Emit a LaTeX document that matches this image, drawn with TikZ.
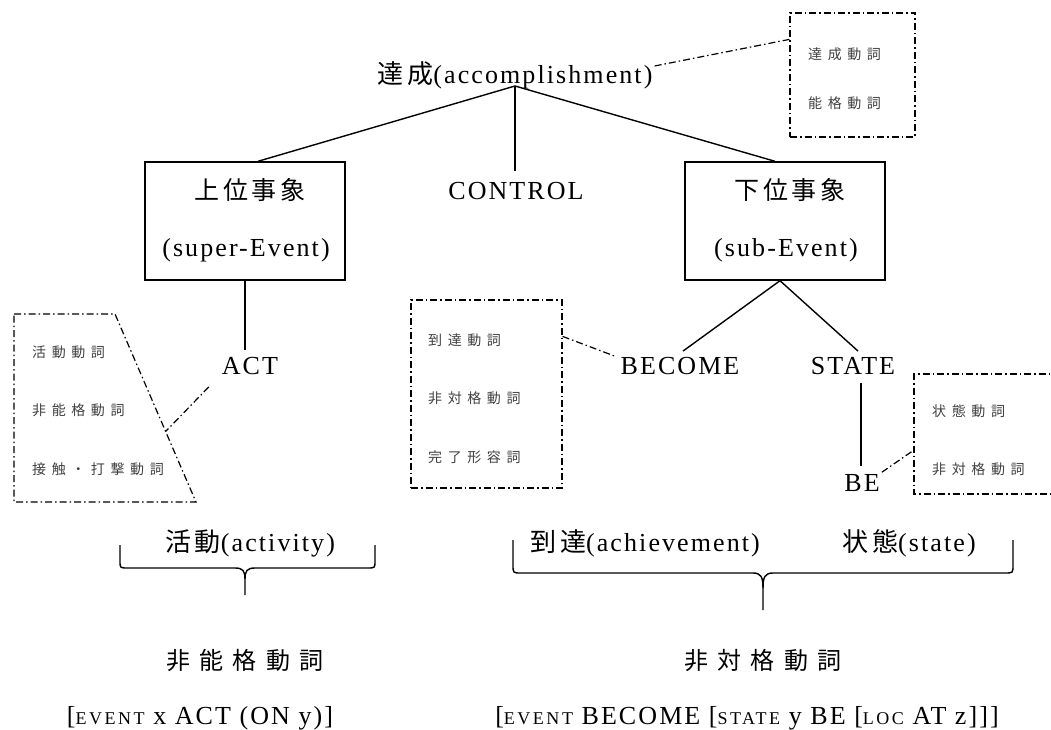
\documentclass[tikz,border=0pt]{standalone}
\usepackage{fontspec}
\setmainfont{Liberation Serif}[LetterSpace=8]
\newfontfamily\scfont{Liberation Serif}[LetterSpace=14]
\newfontfamily\cjk{Noto Sans CJK JP}[LetterSpace=15]
\newfontfamily\cjks{Noto Sans CJK JP}[LetterSpace=40]
\newfontfamily\cjkb{Noto Sans CJK JP}[LetterSpace=38]
\newcommand\smc[1]{{\scfont\fontsize{18}{18}\selectfont #1}}
\usetikzlibrary{calc}
\begin{document}
\begin{tikzpicture}[x=1pt,y=-1pt,
  lab/.style={font=\fontsize{26}{30}\selectfont, inner sep=0pt},
  cj/.style={font=\cjk\fontsize{25}{30}\selectfont, inner sep=0pt},
  small/.style={font=\cjks\fontsize{14}{16}\selectfont, anchor=west, text=black!75, inner sep=0pt},
  big/.style={font=\cjkb\fontsize{24}{27}\selectfont, inner sep=0pt},
  ddot/.style={line width=1.2pt, dash pattern=on 7pt off 3pt on 1.5pt off 3pt},
  tree/.style={line width=1.4pt},
  ebox/.style={draw, line width=1.4pt, inner sep=0pt},
  dbox/.style={draw, ddot, inner sep=0pt}]
\useasboundingbox (0,0) rectangle (1051,730);

% root
\node[lab] (root) at (515,75) {{\cjk 達成}(accomplishment)};
\coordinate (rootb) at (515,86);

% upper boxes
\node[ebox, minimum width=200pt, minimum height=118pt] (lbox) at (245,221) {};
\node[cj] (lt1) at (250,190) {上位事象};
\node[lab] (lt2) at (246,250) {(super-Event)};
\node[ebox, minimum width=200pt, minimum height=118pt] (rbox) at (785,221) {};
\node[cj] (rt1) at (790,190) {下位事象};
\node[lab] (rt2) at (786,250) {(sub-Event)};
\node[lab] (ctrl) at (516,191) {CONTROL};

\draw[tree] (rootb) -- ($(lbox.north)+(13,0)$);
\draw[tree] (rootb) -- ($(ctrl.north)+(-1,-11)$);
\draw[tree] (rootb) -- ($(rbox.north)+(-10,0)$);

% lower tree
\node[lab] (act) at (250,366) {ACT};
\node[lab] (become) at (680,366) {BECOME};
\node[lab] (state) at (853,366) {STATE};
\node[lab] (be) at (862,483) {BE};
\draw[tree] (lbox.south) -- ($(act.north)+(-5,-7)$);
\draw[tree] ($(rbox.south)+(-5,0)$) -- ($(become.north)+(3,-6)$);
\draw[tree] ($(rbox.south)+(-5,0)$) -- ($(state.north)+(5,-6)$);
\draw[tree] ($(state.south)+(8,8)$) -- ($(be.north)+(-1,-8)$);

% left trapezoid
\coordinate (tA) at (14,314);
\coordinate (tB) at (115,314);
\coordinate (tC) at (196,502);
\coordinate (tD) at (14,502);
\draw[ddot] (tA) -- (tB) -- (tC) -- (tD) -- cycle;
\coordinate (tp) at ($(tB)!0.625!(tC)$);
\node[small] (a1) at (32,352) {活動動詞};
\node[small] (a2) at (32,410) {非能格動詞};
\node[small] (a3) at (32,469) {接触・打撃動詞};
\draw[ddot] ($(act.south west)+(-13,12)$) -- (tp);

% middle box
\node[dbox, minimum width=151pt, minimum height=188pt] (mbox) at (486.5,394) {};
\node[small] (b1) at (428,340) {到達動詞};
\node[small] (b2) at (428,398) {非対格動詞};
\node[small] (b3) at (428,457) {完了形容詞};
\draw[ddot] ($(mbox.north east)+(0,37)$) -- ($(become.west)+(-6,-10)$);

% right box (cut by the page edge)
\coordinate (rA) at (1060,374);
\coordinate (rB) at (914,374);
\coordinate (rC) at (914,494);
\coordinate (rD) at (1060,494);
\draw[ddot] (rA) -- (rB) -- (rC) -- (rD);
\node[small] (c1) at (932,411) {状態動詞};
\node[small] (c2) at (932,469) {非対格動詞};
\coordinate (rp) at (914,450);
\draw[ddot] ($(be.north east)+(2,-2)$) -- (rp);

% top right box
\node[dbox, minimum width=125pt, minimum height=124pt] (tbox) at (852.5,75) {};
\node[small] (d1) at (808,54) {達成動詞};
\node[small] (d2) at (808,103) {能格動詞};
\draw[ddot] ($(root.east)+(2,-9)$) -- ($(tbox.north west)+(0,27)$);

% bottom labels
\node[lab] (act2) at (250,543) {{\cjk 活動}(activity)};
\node[lab] (ach) at (645,543) {{\cjk 到達}(achievement)};
\node[lab] (sta) at (909,543) {{\cjk 状態}(state)};

\coordinate (lb1) at (120,545);
\coordinate (lb2) at (375,545);
\coordinate (lbt) at (245,595);
\draw[tree] (lb1) -- ++(0,16) .. controls ++(0,7) .. ++(8,7) -- ($(lbt)+(-10,-27)$) .. controls ($(lbt)+(-2,-27)$) and ($(lbt)+(0,-24)$) .. ($(lbt)+(0,-16)$) -- (lbt);
\draw[tree] (lb2) -- ++(0,16) .. controls ++(0,7) .. ++(-8,7) -- ($(lbt)+(10,-27)$) .. controls ($(lbt)+(2,-27)$) and ($(lbt)+(0,-24)$) .. ($(lbt)+(0,-16)$);

\coordinate (rb1) at (513,540);
\coordinate (rb2) at (1013,540);
\coordinate (rbt) at (763,610);
\draw[tree] (rb1) -- ++(0,25) .. controls ++(0,8) .. ++(8,8) -- ($(rbt)+(-10,-37)$) .. controls ($(rbt)+(-2,-37)$) and ($(rbt)+(0,-33)$) .. ($(rbt)+(0,-22)$) -- (rbt);
\draw[tree] (rb2) -- ++(0,25) .. controls ++(0,8) .. ++(-8,8) -- ($(rbt)+(10,-37)$) .. controls ($(rbt)+(2,-37)$) and ($(rbt)+(0,-33)$) .. ($(rbt)+(0,-22)$);

\node[big] (unerg) at (245,660) {非能格動詞};
\node[big] (unacc) at (763,660) {非対格動詞};

\node[lab] (f1) at (200,718)
  {[\smc{EVENT} x ACT (ON y)]};
\node[lab] (f2) at (747,718)
  {[\smc{EVENT} BECOME [\smc{STATE} y BE [\smc{LOC} AT z]]]};
\end{tikzpicture}
\end{document}
